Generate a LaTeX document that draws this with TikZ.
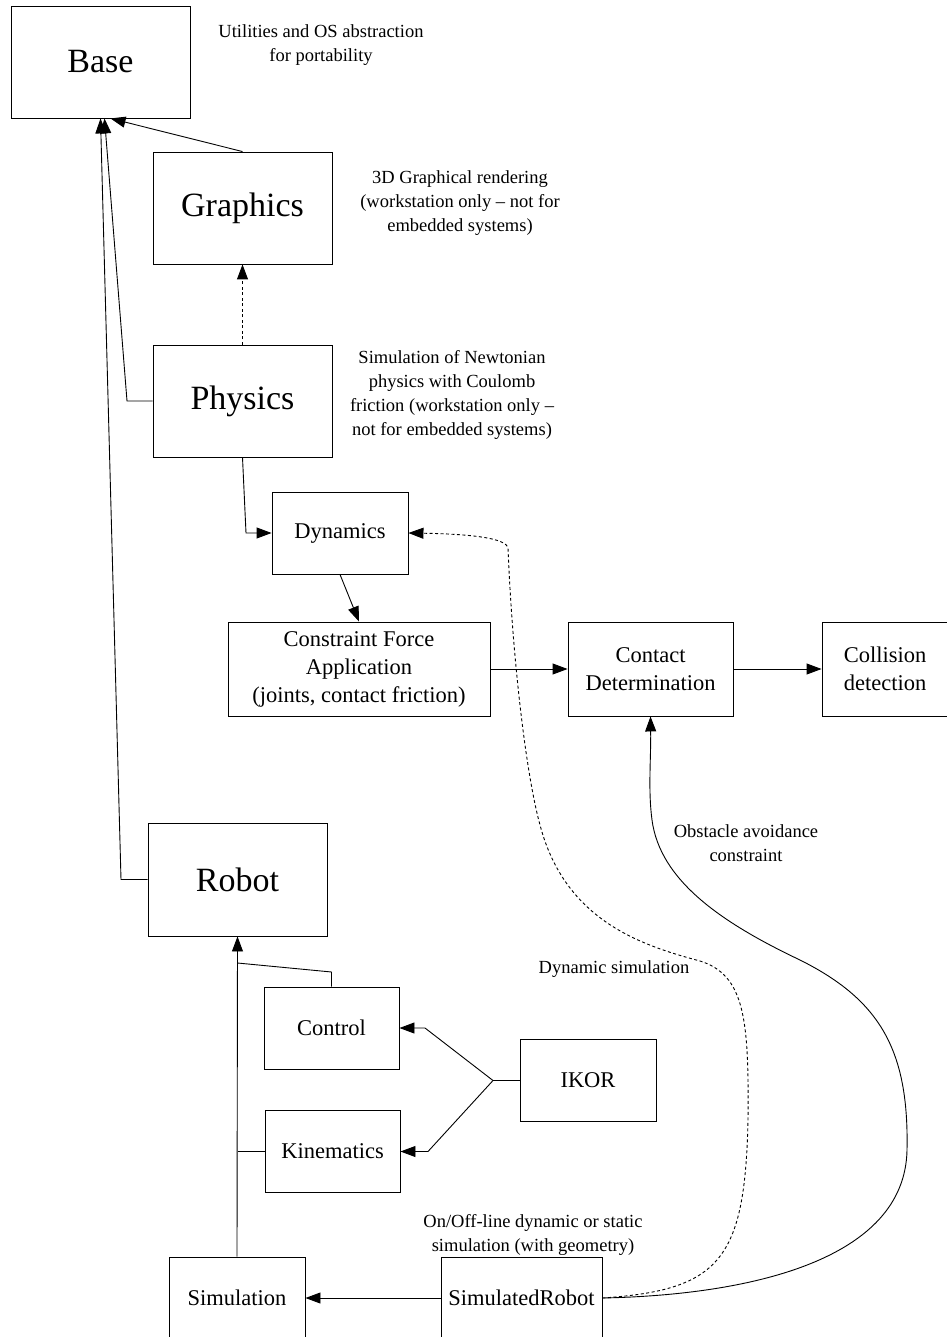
\documentclass[tikz,border=0pt]{standalone}
\usepackage{fontspec}
\setmainfont{Liberation Serif}
\usetikzlibrary{arrows.meta}
\tikzset{
  box/.style={draw, line width=0.9pt, inner sep=0pt, align=center},
  bigbox/.style={box, minimum width=179pt, minimum height=112pt, font=\fontsize{34}{40}\selectfont},
  midbox/.style={box, minimum width=136pt, minimum height=82pt, font=\fontsize{22.5}{28}\selectfont},
  note/.style={align=center, font=\fontsize{18.5}{24}\selectfont},
  link/.style={line width=0.9pt, -{Triangle[length=15pt,width=11pt]}},
  dashlink/.style={link, dash pattern=on 3pt off 2.5pt},
}
\begin{document}
\begin{tikzpicture}[x=1pt, y=-1pt]
  \useasboundingbox (0,0) rectangle (946,1337);
  \node[bigbox] (base)     at (100.5,62)  {Base};
  \node[bigbox] (graphics) at (242.5,208) {Graphics};
  \node[bigbox] (physics)  at (242.5,401) {Physics};
  \node[bigbox, minimum height=113pt] (robot) at (237.5,879.5) {Robot};
  \node[midbox] (dynamics)   at (340,533)    {Dynamics};
  \node[midbox, minimum width=262pt, minimum height=94pt] (constraint) at (359,669)
    {Constraint Force\\Application\\(joints, contact friction)};
  \node[midbox, minimum width=165pt, minimum height=94pt] (contact) at (650.5,669)
    {Contact\\Determination};
  \node[midbox, minimum width=126pt, minimum height=94pt] (collision) at (885,669)
    {Collision\\detection};
  \node[midbox, minimum width=135pt] (control)    at (331.5,1028)  {Control};
  \node[midbox, minimum width=135pt] (kinematics) at (332.5,1151.5) {Kinematics};
  \node[midbox] (ikor)       at (588,1080.5) {IKOR};
  \node[midbox] (simulation) at (237,1298)   {Simulation};
  \node[midbox, minimum width=161pt] (simrobot) at (521.5,1298) {SimulatedRobot};

  \node[note] (basenote)     at (321,45)   {Utilities and OS abstraction\\for portability};
  \node[note] (graphicsnote) at (460,203)  {3D Graphical rendering\\(workstation only -- not for\\embedded systems)};
  \node[note] (physicsnote)  at (452,395)  {Simulation of Newtonian\\physics with Coulomb\\friction (workstation only --\\not for embedded systems)};
  \node[note] (simrobotnote) at (533,1235) {On/Off-line dynamic or static\\simulation (with geometry)};
  \node[note] (dynsimlabel)  at (614,969)  {Dynamic simulation};
  \node[note] (obstlabel)    at (746,843)  {Obstacle avoidance\\constraint};

  \coordinate (ctrljoin) at (237.5,963);
  \coordinate (ikorfork) at (493,1080.5);

  \draw[link] (graphics.north) -- ([xshift=10pt]base.south);
  \draw[link] (physics.west) -- (127,401) -- ([xshift=4pt]base.south);
  \draw[link] (robot.west) -- (121,879.5) -- (base.south);
  \draw[dashlink] (physics.north) -- (graphics.south);
  \draw[link] (physics.south) -- (246,533) -- (dynamics.west);
  \draw[link] (dynamics.south) -- (constraint.north);
  \draw[link] (constraint.east) -- (contact.west);
  \draw[link] (contact.east) -- (collision.west);

  \draw[link] (simulation.north) -- (robot.south);
  \draw[line width=0.9pt] (kinematics.west) -- (kinematics.west -| robot.south);
  \draw[line width=0.9pt] (control.north) -- (331.5,972) -- (ctrljoin);
  \draw[line width=0.9pt] (ikor.west) -- (ikorfork);
  \draw[link] (ikorfork) -- (425,1028) -- (control.east);
  \draw[link] (ikorfork) -- (428,1151.5) -- (kinematics.east);
  \draw[link] (simrobot.west) -- (simulation.east);

  \draw[dashlink] (simrobot.east)
    .. controls (720,1290) and (745,1260) .. (748,1120)
    .. controls (749,1020) and (745,975) .. (700,961)
    .. controls (640,945) and (565,920) .. (540,825)
    .. controls (525,770) and (512,650) .. (508,548)
    .. controls (506,538) and (470,534) .. (dynamics.east);
  \draw[link] (simrobot.east)
    .. controls (750,1295) and (905,1260) .. (907,1150)
    .. controls (909,1050) and (880,1000) .. (800,960)
    .. controls (720,922) and (660,880) .. (652,820)
    .. controls (648,790) and (651,760) .. (contact.south);
\end{tikzpicture}
\end{document}
